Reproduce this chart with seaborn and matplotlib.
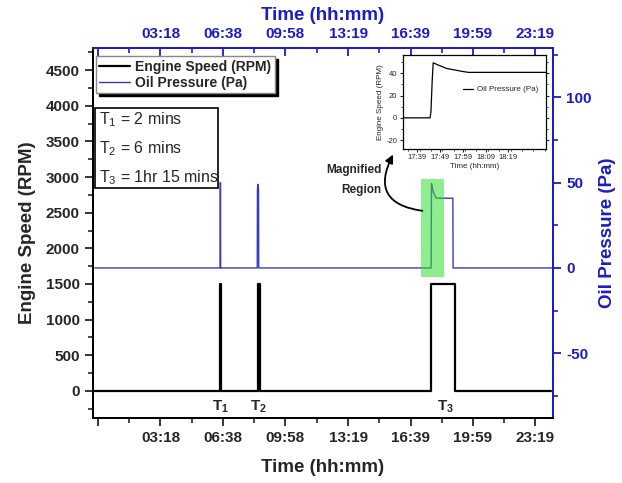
import matplotlib
matplotlib.use("Agg")
import matplotlib.pyplot as plt
from matplotlib.patches import Rectangle, FancyArrowPatch
from matplotlib.ticker import MultipleLocator, FixedLocator
from matplotlib.lines import Line2D
import seaborn as sns

# ---- data (time in minutes since midnight) ----
tick_minutes = [-2, 198, 398, 598, 799, 999, 1199, 1399]
tick_labels = ["", "03:18", "06:38", "09:58", "13:19", "16:39", "19:59", "23:19"]

engine_time = [-15, 390, 390, 392, 392, 510, 510, 516, 516,
               1065, 1065, 1140, 1140, 1450]
engine_rpm = [0, 0, 1500, 1500, 0, 0, 1500, 1500, 0,
              0, 1500, 1500, 0, 0]

oil_time = [-12, 389, 389.2, 390.6, 390.8, 508, 508.6, 509.8, 511, 512.2, 512.8,
            1064.6, 1065.0, 1065.6, 1066.0, 1068.2, 1071.9, 1074.5, 1079.2, 1081.5,
            1134.5, 1135.2, 1452]
oil_pa = [0, 0, 50, 50, 0, 0, 46, 49, 49, 46, 0,
          0, 5, 35, 49.5, 47.5, 44.4, 43.4, 41.6, 40.9,
          40.9, 0, 0]

inset_ticks = [1059, 1069, 1079, 1089, 1099]
inset_labels = ["17:39", "17:49", "17:59", "18:09", "18:19"]

event_time = [390, 512, 1110]
event_names = [r"$\mathbf{T_1}$", r"$\mathbf{T_2}$", r"$\mathbf{T_3}$"]
duration_notes = [r"T$_1$ = 2 mins", r"T$_2$ = 6 mins", r"T$_3$ = 1hr 15 mins"]

# magnified window (time range, pressure range)
zoom_t = (1033, 1105.4)
zoom_p = (-5.1, 52.2)

BLUE = "#1c1cc4"
LINE_BLUE = "#3a3abf"

sns.set_style("ticks")
plt.rcParams["font.family"] = ["Liberation Sans", "DejaVu Sans"]
plt.rcParams["mathtext.fontset"] = "custom"
plt.rcParams["mathtext.rm"] = "Liberation Sans"
plt.rcParams["mathtext.it"] = "Liberation Sans:italic"
plt.rcParams["mathtext.bf"] = "Liberation Sans:bold"
plt.rcParams["axes.unicode_minus"] = False

fig = plt.figure(figsize=(6.22, 4.83), dpi=100)
ax = fig.add_axes([0.1495, 0.1346, 0.7395, 0.766])

sns.lineplot(x=engine_time, y=engine_rpm, ax=ax, color="black", lw=1.6,
             estimator=None, sort=False, legend=False)
ax.set_xlim(-18, 1455)
ax.set_ylim(-380, 4810)
ax.set_yticks(range(0, 5000, 500))
ax.yaxis.set_minor_locator(MultipleLocator(250))
ax.set_xticks(tick_minutes)
ax.set_xticklabels(tick_labels)
ax.xaxis.set_minor_locator(FixedLocator([t + 100 for t in tick_minutes] + [-102]))
ax.set_xlabel("Time (hh:mm)", fontsize=13.5, fontweight="bold", labelpad=10)
ax.set_ylabel("Engine Speed (RPM)", fontsize=13.5, fontweight="bold", labelpad=7)
ax.tick_params(axis="both", which="major", direction="out", length=6, width=1.3,
               labelsize=11)
ax.tick_params(axis="both", which="minor", direction="out", length=3.5, width=1.2)
for lbl in ax.get_xticklabels() + ax.get_yticklabels():
    lbl.set_fontweight("bold")

ax2 = ax.twinx()
sns.lineplot(x=oil_time, y=oil_pa, ax=ax2, color=LINE_BLUE, lw=1.0,
             estimator=None, sort=False, legend=False)
ax2.set_ylim(-88, 129)
ax2.set_yticks([-50, 0, 50, 100])
ax2.yaxis.set_minor_locator(MultipleLocator(25))
ax2.set_ylabel("Oil Pressure (Pa)", fontsize=13.5, fontweight="bold", color=BLUE,
               labelpad=5)
ax2.tick_params(axis="y", which="major", direction="out", length=6, width=1.3,
                labelsize=11, colors=BLUE)
ax2.tick_params(axis="y", which="minor", direction="out", length=3.5, width=1.2,
                colors=BLUE)
for lbl in ax2.get_yticklabels():
    lbl.set_fontweight("bold")

for a in (ax, ax2):
    a.spines["left"].set_color("black")
    a.spines["bottom"].set_color("black")
    a.spines["right"].set_color(BLUE)
    a.spines["top"].set_color(BLUE)
    for s in a.spines.values():
        s.set_linewidth(1.4)
        s.set_visible(True)

# top time axis
top = ax.secondary_xaxis("top")
top.set_xticks(tick_minutes)
top.set_xticklabels(tick_labels)
top.xaxis.set_minor_locator(FixedLocator([t + 100 for t in tick_minutes]))
top.tick_params(axis="x", which="major", direction="in", length=6, width=1.3,
                labelsize=11, colors=BLUE, pad=5)
top.tick_params(axis="x", which="minor", direction="in", length=3.5, width=1.2,
                colors=BLUE)
top.spines["top"].set_color(BLUE)
top.spines["top"].set_linewidth(1.4)
top.set_xlabel("Time (hh:mm)", fontsize=13.5, fontweight="bold", color=BLUE,
               labelpad=5)
for lbl in top.get_xticklabels():
    lbl.set_fontweight("bold")

# magnified window highlight and arrow pointing to the inset
ax2.add_patch(Rectangle((zoom_t[0], zoom_p[0]), zoom_t[1] - zoom_t[0],
                        zoom_p[1] - zoom_p[0], facecolor="#33dd33", alpha=0.55,
                        edgecolor="none", zorder=5))
ax2.add_patch(FancyArrowPatch((1037, 33.5), (943, 66.5),
                              connectionstyle="arc3,rad=-0.7",
                              arrowstyle="-|>", mutation_scale=12,
                              shrinkA=0, shrinkB=0,
                              color="black", lw=1.3, zorder=6))
ax2.text(905, 61, "Magnified\nRegion", fontsize=8.5, fontweight="bold",
         ha="right", va="top", linespacing=1.9)

# event labels under the engine pulses
for t, name in zip(event_time, event_names):
    ax.text(t, -230, name, fontsize=11, ha="center", va="center")

# legend
handles = [Line2D([], [], color="black", lw=1.6),
           Line2D([], [], color=LINE_BLUE, lw=1.0)]
leg = ax2.legend(handles, ["Engine Speed (RPM)", "Oil Pressure (Pa)"],
                 loc="upper left", bbox_to_anchor=(0.006, 0.978), borderaxespad=0,
                 fancybox=False, framealpha=1, edgecolor="#888888",
                 shadow={"color": "black", "alpha": 1},
                 prop={"weight": "bold", "size": 10}, handlelength=2.2,
                 handletextpad=0.4, labelspacing=0.15, borderpad=0.25)
leg.set_zorder(10)

# duration box
ax2.add_patch(Rectangle((0.0043, 0.6216), 0.2674, 0.2162, transform=ax2.transAxes,
                        facecolor="white", edgecolor="black", lw=1.2, zorder=8))
for yy, note in zip([0.8054, 0.7270, 0.6486], duration_notes):
    ax2.text(0.012, yy, note, transform=ax2.transAxes, fontsize=11.5,
             ha="left", va="center", zorder=9)

# inset with the magnified pressure trace
ins = fig.add_axes([0.6474, 0.6925, 0.2299, 0.1936])
sns.lineplot(x=oil_time, y=oil_pa, ax=ins, color="black", lw=0.9,
             estimator=None, sort=False, label="Oil Pressure (Pa)")
ins.set_xlim(1052.6, 1115.4)
ins.set_ylim(-27.6, 56.5)
ins.set_xticks(inset_ticks)
ins.set_xticklabels(inset_labels)
ins.set_yticks([-20, 0, 20, 40])
ins.yaxis.set_minor_locator(MultipleLocator(10))
ins.xaxis.set_minor_locator(MultipleLocator(5))
ins.tick_params(axis="both", which="major", labelsize=5.5, length=2.5, width=0.8,
                pad=1.5)
ins.tick_params(axis="both", which="minor", length=1.5, width=0.6)
ins.tick_params(axis="y", which="both", right=True)
ins.set_xlabel("Time (hh:mm)", fontsize=5.8, labelpad=1.5)
ins.set_ylabel("Engine Speed (RPM)", fontsize=5.8, labelpad=1.5)
for s in ins.spines.values():
    s.set_color("black")
    s.set_linewidth(0.9)
ins.legend(loc="center right", bbox_to_anchor=(1.0, 0.63), frameon=False,
           fontsize=5.8, handlelength=1.2, handletextpad=0.5)

fig.savefig("out.png", dpi=100)
